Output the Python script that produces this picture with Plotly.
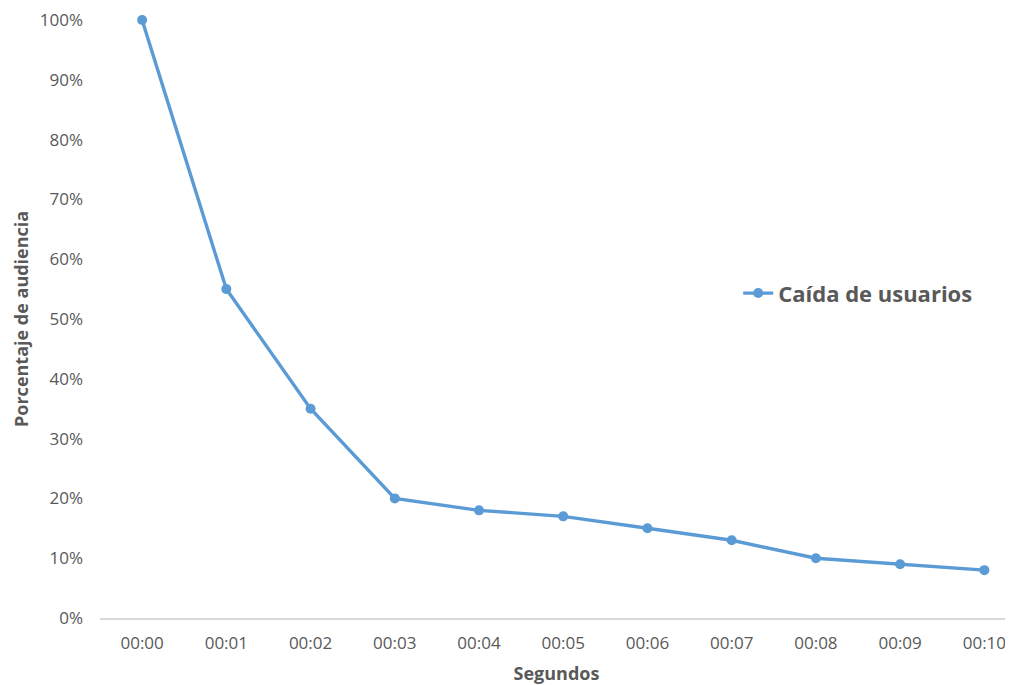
import plotly.graph_objects as go

categories = ["00:00", "00:01", "00:02", "00:03", "00:04", "00:05",
              "00:06", "00:07", "00:08", "00:09", "00:10"]
values = [1.00, 0.55, 0.35, 0.20, 0.18, 0.17, 0.15, 0.13, 0.10, 0.09, 0.08]
series_name = "Caída de usuarios"
y_ticks = [i / 10 for i in range(11)]

FONT = "Open Sans"
GREY = "#595959"
BLUE = "#5B9BD5"

fig = go.Figure()
fig.add_trace(go.Scatter(
    x=list(range(len(categories))), y=values, mode="lines+markers",
    name=series_name,
    line=dict(color=BLUE, width=3.4),
    marker=dict(color=BLUE, size=10),
    cliponaxis=False,
))

fig.update_layout(
    width=1013, height=685,
    margin=dict(l=92, r=8, t=12, b=75),
    paper_bgcolor="white", plot_bgcolor="white",
    font=dict(family=FONT, color=GREY, size=16),
    showlegend=True,
    legend=dict(x=0.699, y=0.543, xanchor="left", yanchor="middle",
                font=dict(size=22, color=GREY, family=FONT, weight="bold"),
                bgcolor="rgba(0,0,0,0)"),
    xaxis=dict(
        tickmode="array", tickvals=list(range(len(categories))), ticktext=categories,
        range=[-0.5, 10.34], showgrid=False, zeroline=False,
        showline=True, linecolor="#D9D9D9", linewidth=2,
        ticks="", tickfont=dict(size=17, color=GREY), ticklabelstandoff=9,
        automargin=False,
        title=dict(text="Segundos", font=dict(size=18, color=GREY, weight="bold"), standoff=14),
    ),
    yaxis=dict(
        range=[0, 1], tickvals=y_ticks, tickformat=".0%",
        showgrid=False, zeroline=False, showline=False, ticks="",
        tickfont=dict(size=17, color=GREY), ticklabelstandoff=16,
        ticklabeloverflow="allow", automargin=False,
    ),
    annotations=[dict(
        text="Porcentaje de audiencia", textangle=-90,
        xref="paper", yref="paper", x=(21 - 100) / 913, y=0.5,
        xanchor="center", yanchor="middle", showarrow=False,
        font=dict(size=18, color=GREY, family=FONT, weight="bold"),
    )],
)

fig.write_html("out.html")
